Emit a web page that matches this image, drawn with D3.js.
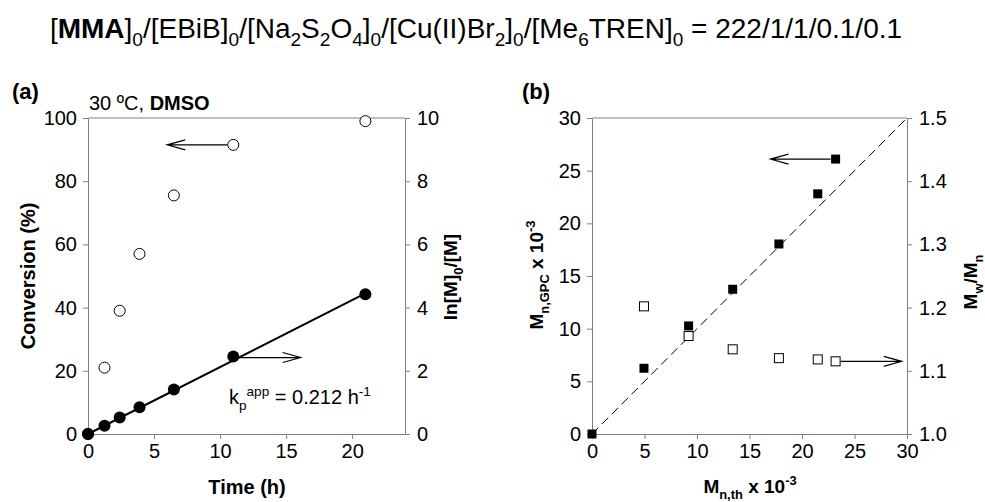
<!DOCTYPE html>
<html>
<head>
<meta charset="utf-8">
<script src="https://cdn.jsdelivr.net/npm/d3@7"></script>
<style>
  body { margin: 0; background: #fff; }
  svg { font-family: "Liberation Sans", Arial, sans-serif; }
  .axis path, .axis line { stroke: #808080; }
  .axis text { fill: #000; }
</style>
</head>
<body>
<svg width="985" height="502"></svg>
<script>
//************************* DATA ***************************//

// (a) kinetics
var timeH      = [0, 1.25, 2.4, 3.9, 6.5, 11, 21];
var conversion = [0, 21, 39, 57, 75.5, 91.5, 99];
var lnM0M      = [0, 0.26, 0.52, 0.85, 1.41, 2.45, 4.42];
var kpApp      = 0.212;
var timeTicks  = [0, 5, 10, 15, 20];
var convTicks  = [0, 20, 40, 60, 80, 100];
var lnTicks    = [0, 2, 4, 6, 8, 10];

// (b) molecular weight
var mnTh       = [0, 4.95, 9.2, 13.4, 17.8, 21.5, 23.2];
var mnGpc      = [0, 6.24, 10.26, 13.74, 18.04, 22.8, 26.1];
var mnThD      = [4.95, 9.2, 13.4, 17.8, 21.5, 23.2];
var dispersity = [1.202, 1.155, 1.134, 1.12, 1.118, 1.115];
var mnTicks    = [0, 5, 10, 15, 20, 25, 30];
var dTicks     = [1.0, 1.1, 1.2, 1.3, 1.4, 1.5];

var svg = d3.select("svg");
var tickFont = 20, titleFont = 19;

// text with sub/superscripts
function rich(sel, parts, size) {
    var cur = 0;
    parts.forEach(function (p) {
        var shift = p.sub ? size * 0.3 : (p.sup ? -size * 0.4 : 0);
        var ts = sel.append("tspan").text(p.t).attr("dy", shift - cur);
        cur = shift;
        if (p.sub || p.sup) ts.style("font-size", (size * 0.68) + "px");
        if (p.b) ts.style("font-weight", "bold");
    });
    return sel;
}

function arrow(g, x1, x2, y) {
    var dir = x2 > x1 ? 1 : -1;
    g.append("path")
        .attr("d", "M" + x1 + "," + y + "H" + x2 +
                   "M" + (x2 - dir * 18) + "," + (y - 5) + "L" + x2 + "," + y + "L" + (x2 - dir * 18) + "," + (y + 5))
        .attr("fill", "none").attr("stroke", "#000").attr("stroke-width", 1.2);
}

function frame(g, x, y) {
    g.append("line")
        .attr("x1", x.range()[0]).attr("x2", x.range()[1])
        .attr("y1", y.range()[1]).attr("y2", y.range()[1])
        .attr("stroke", "#808080");
}

function styleAxis(sel) {
    sel.attr("class", "axis").style("font-size", tickFont + "px").style("font-family", null);
}

//************************* TITLE ***************************//
rich(svg.append("text").attr("x", 476).attr("y", 38).attr("text-anchor", "middle").style("font-size", "28px"), [
    {t: "["}, {t: "MMA", b: 1}, {t: "]"}, {t: "0", sub: 1}, {t: "/[EBiB]"}, {t: "0", sub: 1},
    {t: "/[Na"}, {t: "2", sub: 1}, {t: "S"}, {t: "2", sub: 1}, {t: "O"}, {t: "4", sub: 1}, {t: "]"}, {t: "0", sub: 1},
    {t: "/[Cu(II)Br"}, {t: "2", sub: 1}, {t: "]"}, {t: "0", sub: 1},
    {t: "/[Me"}, {t: "6", sub: 1}, {t: "TREN]"}, {t: "0", sub: 1}, {t: " = 222/1/1/0.1/0.1"}
], 28);

//************************* PANEL A ***************************//
var ga = svg.append("g");
var xa = d3.scaleLinear().domain([0, 24]).range([88, 405]);
var ya = d3.scaleLinear().domain([0, 100]).range([434, 118]);
var ya2 = d3.scaleLinear().domain([0, 10]).range([434, 118]);

ga.append("g").attr("transform", "translate(0,434)")
    .call(d3.axisBottom(xa).tickValues(timeTicks).tickSize(5).tickSizeOuter(0).tickPadding(5))
    .call(styleAxis);
ga.append("g").attr("transform", "translate(88,0)")
    .call(d3.axisLeft(ya).tickValues(convTicks).tickSize(5).tickSizeOuter(0).tickPadding(6))
    .call(styleAxis);
ga.append("g").attr("transform", "translate(405,0)")
    .call(d3.axisRight(ya2).tickValues(lnTicks).tickSize(5).tickSizeOuter(0).tickPadding(7))
    .call(styleAxis);
frame(ga, xa, ya);

// first-order fit
ga.append("line")
    .attr("x1", xa(0)).attr("y1", ya2(0))
    .attr("x2", xa(21)).attr("y2", ya2(kpApp * 21))
    .attr("stroke", "#000").attr("stroke-width", 2);

ga.selectAll(".conv").data(timeH).enter().append("circle")
    .attr("cx", function (d) { return xa(d); })
    .attr("cy", function (d, i) { return ya(conversion[i]); })
    .attr("r", 5.5).attr("fill", "#fff").attr("stroke", "#000").attr("stroke-width", 1);

ga.selectAll(".ln").data(timeH).enter().append("circle")
    .attr("cx", function (d) { return xa(d); })
    .attr("cy", function (d, i) { return ya2(lnM0M[i]); })
    .attr("r", 6).attr("fill", "#000");

arrow(ga, xa(11) - 6, xa(6), ya(91.5));
arrow(ga, xa(11) + 6, xa(16.1), ya2(2.42));

ga.append("text").attr("x", 12).attr("y", 99).style("font-size", "22px").style("font-weight", "bold").text("(a)");
rich(ga.append("text").attr("x", 89).attr("y", 110).style("font-size", "20px"),
    [{t: "30 ºC, "}, {t: "DMSO", b: 1}], 20);
rich(ga.append("text").attr("x", 229).attr("y", 404).style("font-size", "20px"),
    [{t: "k"}, {t: "p", sub: 1}, {t: "app", sup: 1}, {t: " = 0.212 h"}, {t: "-1", sup: 1}], 20);

ga.append("text").attr("x", 247).attr("y", 494).attr("text-anchor", "middle")
    .style("font-size", "20px").style("font-weight", "bold").text("Time (h)");
ga.append("text").attr("transform", "translate(35,276) rotate(-90)").attr("text-anchor", "middle")
    .style("font-size", "20px").style("font-weight", "bold").text("Conversion (%)");
rich(ga.append("text").attr("transform", "translate(457,277) rotate(-90)").attr("text-anchor", "middle")
    .style("font-size", titleFont + "px").style("font-weight", "bold"),
    [{t: "ln[M]"}, {t: "0", sub: 1}, {t: "/[M]"}], titleFont);

//************************* PANEL B ***************************//
var gb = svg.append("g");
var xb = d3.scaleLinear().domain([0, 30]).range([592, 907]);
var yb = d3.scaleLinear().domain([0, 30]).range([434, 118]);
var yb2 = d3.scaleLinear().domain([1.0, 1.5]).range([434, 118]);

gb.append("g").attr("transform", "translate(0,434)")
    .call(d3.axisBottom(xb).tickValues(mnTicks).tickSize(5).tickSizeOuter(0).tickPadding(5))
    .call(styleAxis);
gb.append("g").attr("transform", "translate(592,0)")
    .call(d3.axisLeft(yb).tickValues(mnTicks).tickSize(5).tickSizeOuter(0).tickPadding(6))
    .call(styleAxis);
gb.append("g").attr("transform", "translate(907,0)")
    .call(d3.axisRight(yb2).tickValues(dTicks).tickFormat(d3.format(".1f")).tickSize(5).tickSizeOuter(0).tickPadding(7))
    .call(styleAxis);
frame(gb, xb, yb);

// theoretical line
gb.append("line")
    .attr("x1", xb(0)).attr("y1", yb(0))
    .attr("x2", xb(30)).attr("y2", yb(30))
    .attr("stroke", "#000").attr("stroke-width", 1).attr("stroke-dasharray", "9,5");

var sq = 9;
gb.selectAll(".mn").data(mnTh).enter().append("rect")
    .attr("x", function (d) { return xb(d) - sq / 2; })
    .attr("y", function (d, i) { return yb(mnGpc[i]) - sq / 2; })
    .attr("width", sq).attr("height", sq).attr("fill", "#000");

gb.selectAll(".pdi").data(mnThD).enter().append("rect")
    .attr("x", function (d) { return xb(d) - sq / 2; })
    .attr("y", function (d, i) { return yb2(dispersity[i]) - sq / 2; })
    .attr("width", sq).attr("height", sq).attr("fill", "#fff").attr("stroke", "#000").attr("stroke-width", 1);

arrow(gb, xb(23.2) - 5, xb(17), yb(26.1));
arrow(gb, xb(23.2) + 5, xb(29.5), yb2(1.115));

gb.append("text").attr("x", 522).attr("y", 99).style("font-size", "22px").style("font-weight", "bold").text("(b)");

rich(gb.append("text").attr("x", 750).attr("y", 493).attr("text-anchor", "middle")
    .style("font-size", titleFont + "px").style("font-weight", "bold"),
    [{t: "M"}, {t: "n,th", sub: 1}, {t: " x 10"}, {t: "-3", sup: 1}], titleFont);
rich(gb.append("text").attr("transform", "translate(543,275) rotate(-90)").attr("text-anchor", "middle")
    .style("font-size", titleFont + "px").style("font-weight", "bold"),
    [{t: "M"}, {t: "n,GPC", sub: 1}, {t: " x 10"}, {t: "-3", sup: 1}], titleFont);
rich(gb.append("text").attr("transform", "translate(977,282) rotate(-90)").attr("text-anchor", "middle")
    .style("font-size", titleFont + "px").style("font-weight", "bold"),
    [{t: "M"}, {t: "w", sub: 1}, {t: "/M"}, {t: "n", sub: 1}], titleFont);
</script>
</body>
</html>
